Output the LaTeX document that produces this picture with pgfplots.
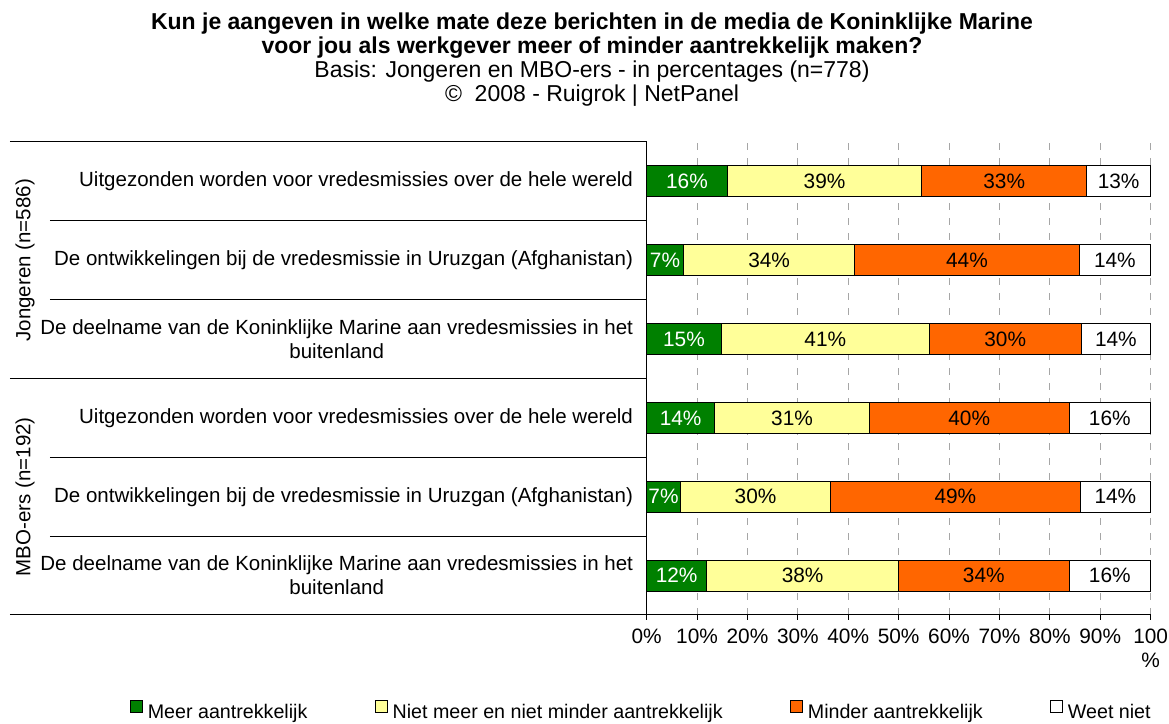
\documentclass[border=0pt]{standalone}
\usepackage{fontspec}
\setmainfont{Liberation Sans}
\usepackage{pgfplots}
\usepackage{pgfplotstable}
\pgfplotsset{compat=1.18}

\definecolor{mgreen}{HTML}{008000}
\definecolor{myellow}{HTML}{FFFF99}
\definecolor{morange}{HTML}{FF6600}
\definecolor{gridgray}{HTML}{A6A6A6}

% rows: 5 = top, 0 = bottom
\pgfplotstableread{
row a    b    c    d    la lb lc ld
5   16.0 38.6 32.7 12.7 16 39 33 13
4   7.3  34.0 44.5 14.2 7  34 44 14
3   14.8 41.3 30.1 13.8 15 41 30 14
2   13.5 30.7 39.6 16.2 14 31 40 16
1   6.7  29.8 49.5 14.0 7  30 49 14
0   11.9 38.1 33.8 16.2 12 38 34 16
}\data

\newcommand{\fs}{\fontsize{12.5}{14.4}\selectfont}
\newcommand{\fl}{\fontsize{12.3}{14.4}\selectfont}
\newcommand{\fg}{\fontsize{11.8}{14.4}\selectfont}
\newcommand{\ft}{\fontsize{13.8}{14.4}\selectfont}

\begin{document}
\begin{tikzpicture}[font=\fs]
\begin{axis}[
  name=ax,
  scale only axis,
  width=302.4pt, height=283.8pt,
  xbar stacked, bar width=18.6pt,
  xmin=0, xmax=100,
  ymin=-0.5, ymax=5.5,
  clip=false,
  axis x line*=bottom, axis y line*=left,
  axis line style={black, line width=0.6pt},
  xtick={0,10,...,100},
  xticklabels={0\%,10\%,20\%,30\%,40\%,50\%,60\%,70\%,80\%,90\%,100\\\%},
  xticklabel style={align=center, font=\fs, yshift=-1.6pt},
  tick align=outside, major tick length=3pt,
  xtick style={black, line width=0.5pt},
  ytick={0,1,2,3,4,5},
  yticklabels={
    {De deelname van de Koninklijke Marine aan vredesmissies in het\\buitenland},
    {De ontwikkelingen bij de vredesmissie in Uruzgan (Afghanistan)},
    {Uitgezonden worden voor vredesmissies over de hele wereld},
    {De deelname van de Koninklijke Marine aan vredesmissies in het\\buitenland},
    {De ontwikkelingen bij de vredesmissie in Uruzgan (Afghanistan)},
    {Uitgezonden worden voor vredesmissies over de hele wereld}},
  yticklabel style={align=center, inner sep=0pt, xshift=-5pt, font=\fl},
  ytick style={draw=none},
  xmajorgrids,
  grid style={gridgray, line width=0.5pt, dash pattern=on 4.2pt off 4.8pt},
  point meta=explicit symbolic,
  nodes near coords={\pgfplotspointmeta\%},
  every node near coord/.append style={anchor=center, font=\fs},
  legend image code/.code={\draw[#1,draw=black,line width=0.6pt] (0pt,-0.3pt) rectangle (7.4pt,7.1pt);},
  legend columns=4,
  legend style={at={(1,-0.179)}, anchor=north east, xshift=3pt, draw=none, font=\fg,
    inner sep=0pt, nodes={inner ysep=1.5pt, inner xsep=2.8pt},
    /tikz/every even column/.append style={column sep=37.5pt}},
]
\addplot[fill=mgreen, draw=black, line width=0.6pt,
  every node near coord/.append style={text=white}]
  table[x=a, y=row, meta=la] {\data};
\addplot[fill=myellow, draw=black, line width=0.6pt]
  table[x=b, y=row, meta=lb] {\data};
\addplot[fill=morange, draw=black, line width=0.6pt]
  table[x=c, y=row, meta=lc] {\data};
\addplot[fill=white, draw=black, line width=0.6pt]
  table[x=d, y=row, meta=ld] {\data};
\legend{Meer aantrekkelijk, Niet meer en niet minder aantrekkelijk,
  Minder aantrekkelijk, Weet niet}

% row separators
\draw[black, line width=0.6pt] ([xshift=-358pt]axis cs:0,0.5) -- (axis cs:0,0.5);
\draw[black, line width=0.6pt] ([xshift=-358pt]axis cs:0,1.5) -- (axis cs:0,1.5);
\draw[black, line width=0.6pt] ([xshift=-358pt]axis cs:0,3.5) -- (axis cs:0,3.5);
\draw[black, line width=0.6pt] ([xshift=-358pt]axis cs:0,4.5) -- (axis cs:0,4.5);
\draw[black, line width=0.6pt] ([xshift=-382pt]axis cs:0,-0.5) -- (axis cs:0,-0.5);
\draw[black, line width=0.6pt] ([xshift=-382pt]axis cs:0,2.5) -- (axis cs:0,2.5);
\draw[black, line width=0.6pt] ([xshift=-382pt]axis cs:0,5.5) -- (axis cs:0,5.5);
% group labels
\node[rotate=90, font=\fl] at ([xshift=-373pt]axis cs:0,4) {Jongeren (n=586)};
\node[rotate=90, font=\fl] at ([xshift=-373pt]axis cs:0,1) {MBO-ers (n=192)};
\end{axis}

% title block
\node[anchor=base, font=\ft\bfseries] at ([xshift=-32.8pt, yshift=67.6pt]ax.north west)
  {Kun je aangeven in welke mate deze berichten in de media de Koninklijke Marine};
\node[anchor=base, font=\ft\bfseries] at ([xshift=-32.8pt, yshift=53.2pt]ax.north west)
  {voor jou als werkgever meer of minder aantrekkelijk maken?};
\node[anchor=base, font=\ft] at ([xshift=-32.8pt, yshift=38.8pt]ax.north west)
  {Basis: Jongeren en MBO-ers - in percentages (n=778)};
\node[anchor=base, font=\ft] at ([xshift=-32.8pt, yshift=24.4pt]ax.north west)
  {©\ \ 2008 - Ruigrok | NetPanel};

\pgfresetboundingbox
\path[use as bounding box] ([shift={(-388pt,85.2pt)}]ax.north west)
  rectangle ([shift={(11pt,-65.4pt)}]ax.south east);
\end{tikzpicture}
\end{document}
